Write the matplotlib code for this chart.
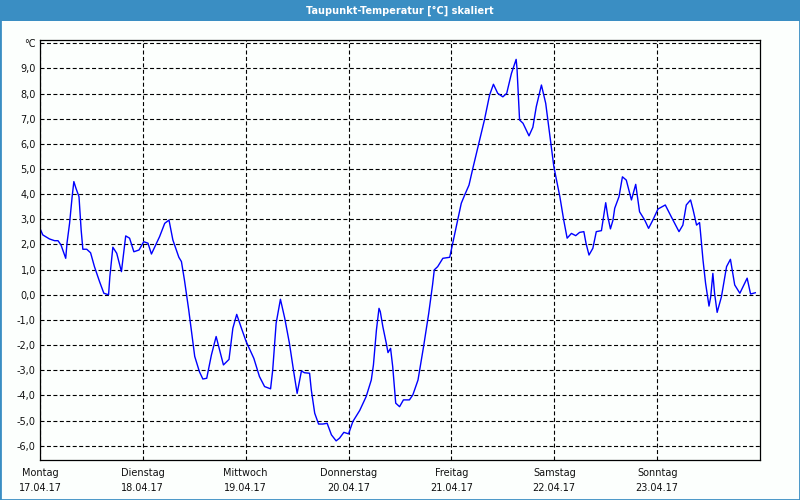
import matplotlib
matplotlib.use('Agg')
import matplotlib.pyplot as plt
from matplotlib.patches import Rectangle

# hours since Monday 17.04.17 00:00 and dew point temperature in °C
hours = [0, 0.65, 2.2, 3.4, 4.2, 4.9, 6.0, 6.3, 6.9, 7.5, 7.9, 8.4, 9.1, 9.6, 10.0,
         10.9, 11.8, 12.7, 13.9, 14.9, 16.0, 16.3, 17.0, 17.9, 19.0, 20.0, 20.9,
         21.9, 23.1, 24.2, 25.2, 26.0, 27.9, 29.1, 30.1, 31.0, 32.4, 33.0, 33.7,
         34.7, 36.1, 37.2, 38.0, 38.9, 40.0, 41.1, 41.9, 42.8, 44.1, 45.0, 45.9,
         47.0, 48.1, 49.9, 51.2, 52.4, 53.8, 54.3, 55.1, 56.1, 57.1, 58.2, 59.2,
         60.0, 61.0, 61.7, 62.9, 63.3, 64.1, 65.0, 66.0, 67.0, 68.0, 69.1, 69.9,
         70.9, 72.0, 73.0, 74.6, 76.1, 77.3, 77.8, 78.5, 79.1, 79.4, 80.0, 80.8,
         81.2, 81.8, 82.3, 83.0, 83.9, 84.8, 86.2, 87.0, 88.2, 89.5, 90.7, 91.6,
         92.0, 92.8, 94.0, 95.6, 96.3, 97.3, 98.3, 99.1, 100.1, 101.0, 102.4,
         103.7, 104.9, 105.8, 106.8, 108.0, 108.9, 110.0, 111.1, 111.3, 111.9,
         112.7, 114.1, 115.0, 115.8, 117.0, 118.0, 118.9, 119.9, 121.3, 122.2,
         123.0, 124.0, 125.0, 125.9, 126.9, 127.4, 128.1, 129.0, 129.8, 131.0,
         132.0, 132.5, 133.1, 133.7, 134.1, 135.1, 135.9, 136.8, 138.0, 139.0,
         139.9, 141.1, 142.0, 143.0, 144.2, 145.9, 147.3, 149.1, 150.0, 150.8,
         151.8, 152.4, 153.2, 153.9, 154.1, 154.7, 155.3, 156.1, 156.5, 157.0,
         157.4, 158.0, 159.0, 160.2, 161.1, 162.1, 163.3, 165.0, 165.8, 166.9]
temps = [2.64, 2.38, 2.22, 2.15, 2.15, 1.98, 1.45, 2.05, 2.84, 3.9, 4.5, 4.23, 3.9,
         2.58, 1.81, 1.81, 1.67, 1.12, 0.52, 0.06, 0.0, 0.72, 1.89, 1.65, 0.92,
         2.34, 2.25, 1.71, 1.78, 2.11, 2.05, 1.62, 2.31, 2.84, 2.97, 2.18, 1.49,
         1.32, 0.59, -0.6, -2.45, -3.06, -3.35, -3.32, -2.39, -1.66, -2.19, -2.79,
         -2.57, -1.33, -0.78, -1.33, -1.86, -2.53, -3.25, -3.65, -3.74, -2.99,
         -1.13, -0.18, -0.93, -1.93, -3.06, -3.92, -3.03, -3.1, -3.12, -3.78,
         -4.71, -5.14, -5.14, -5.11, -5.57, -5.81, -5.70, -5.47, -5.53, -5.04,
         -4.6, -4.05, -3.39, -2.79, -1.4, -0.54, -0.67, -1.27, -1.93, -2.3, -2.13,
         -2.86, -4.31, -4.45, -4.18, -4.18, -3.98, -3.39, -2.06, -0.74, 0.4, 0.99,
         1.12, 1.45, 1.49, 2.05, 2.84, 3.64, 3.97, 4.36, 5.03, 6.02, 6.95, 7.94,
         8.37, 8.01, 7.87, 8.01, 8.8, 9.36, 9.0, 6.95, 6.82, 6.32, 6.66, 7.48,
         8.34, 7.61, 6.42, 5.09, 3.9, 2.97, 2.25, 2.44, 2.35, 2.48, 2.51, 2.05,
         1.58, 1.85, 2.51, 2.55, 3.66, 3.1, 2.62, 2.97, 3.44, 3.9, 4.69, 4.56,
         3.77, 4.39, 3.3, 2.97, 2.64, 2.97, 3.41, 3.57, 3.1, 2.51, 2.77, 3.57,
         3.77, 3.37, 2.77, 2.87, 2.51, 1.38, 0.46, -0.45, -0.08, 0.85, 0.06, -0.7,
         -0.08, 1.12, 1.41, 0.39, 0.06, 0.66, 0.03, 0.08]

day_names = ['Montag', 'Dienstag', 'Mittwoch', 'Donnerstag', 'Freitag', 'Samstag', 'Sonntag']
dates = ['17.04.17', '18.04.17', '19.04.17', '20.04.17', '21.04.17', '22.04.17', '23.04.17']
y_ticks = list(range(-6, 11))

bg = '#fcfffd'
blue_bar = '#3a8ec3'

fig = plt.figure(figsize=(8, 5), dpi=100, facecolor=bg)
ax = fig.add_axes([0.05, 0.08, 0.90, 0.84])
ax.set_facecolor(bg)

ax.plot(hours, temps, color='#0000ff', lw=1.0)

ax.set_xlim(0, 168)
ax.set_ylim(-6.57, 10.13)
ax.set_yticks(y_ticks)
ax.set_yticklabels(['°C' if t == 10 else f'{t:.1f}'.replace('.', ',') for t in y_ticks])
ax.set_xticks([24 * i for i in range(len(day_names))])
ax.set_xticklabels([f'{d}\n{s}' for d, s in zip(day_names, dates)], linespacing=1.6)

ax.grid(True, color='black', ls=(0, (3.6, 2.2)), lw=0.8)
ax.tick_params(axis='both', length=0, labelsize=7, labelcolor='#111111')
ax.tick_params(axis='y', pad=3)
ax.tick_params(axis='x', pad=6)
for s in ax.spines.values():
    s.set_color('black')
    s.set_linewidth(0.9)

# title bar and frame
fig.add_artist(Rectangle((0, 1 - 21 / 500), 1, 21 / 500, transform=fig.transFigure,
                         facecolor=blue_bar, edgecolor='none'))
fig.add_artist(Rectangle((0, 0), 1, 1, transform=fig.transFigure, fill=False,
                         edgecolor=blue_bar, lw=2))
fig.text(0.5, 1 - 10.5 / 500, 'Taupunkt-Temperatur [°C] skaliert', color='white',
         ha='center', va='center', fontsize=7, fontweight='bold')

fig.savefig('out.png', dpi=100, facecolor=bg)
